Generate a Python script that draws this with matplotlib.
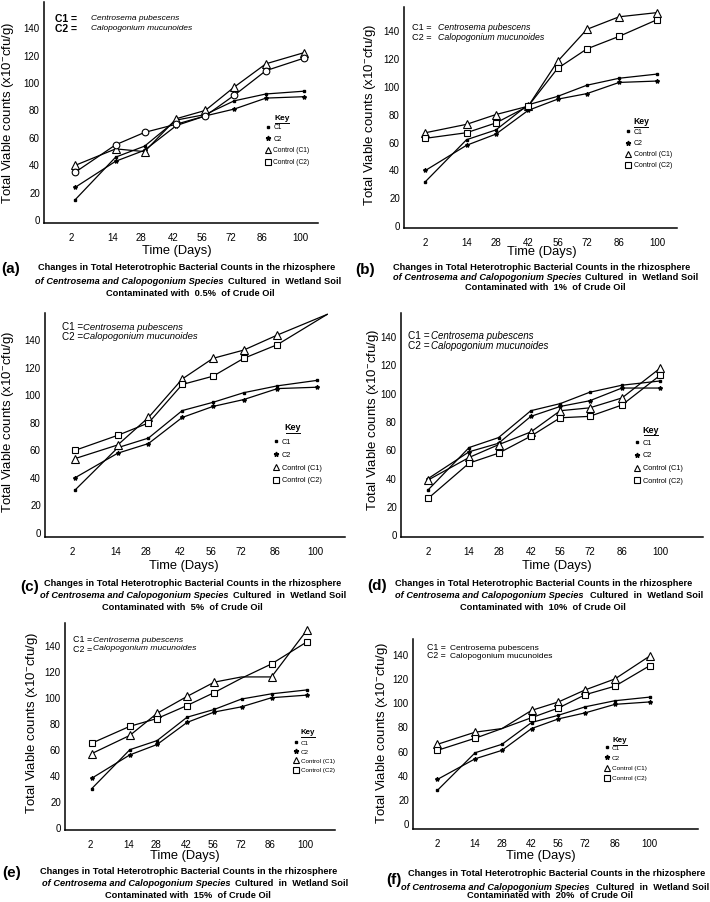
import matplotlib.pyplot as plt
from matplotlib.lines import Line2D

plt.rcParams['font.family'] = ['Liberation Sans', 'DejaVu Sans']

# ---- data ----
days = ['2', '14', '28', '42', '56', '72', '86', '100']
panel_tags = ['(a)', '(b)', '(c)', '(d)', '(e)', '(f)']
oil_levels = ['0.5%', '1%', '5%', '10%', '15%', '20%']

c1 = [
    [15, 46, 54, 73, 77, 87, 92, 94],
    [32, 62, 69, 87, 93, 101, 106, 109],
    [31, 62, 69, 89, 95, 102, 107, 111],
    [32, 62, 69, 88, 93, 101, 106, 109],
    [30, 60, 67, 85, 91, 99, 103, 106],
    [28, 59, 66, 84, 90, 97, 102, 105],
]
c2 = [
    [24, 43, 51, 69, 76, 81, 89, 90],
    [40, 58, 66, 83, 91, 95, 103, 104],
    [40, 58, 65, 84, 92, 97, 105, 106],
    [40, 59, 65, 84, 91, 95, 104, 104],
    [38, 56, 64, 81, 89, 93, 100, 102],
    [37, 54, 61, 79, 87, 92, 99, 101],
]
control_c1 = [
    [40, 52, 50, 74, 80, 97, 114, 122],
    [67, 73, 80, 86, 118, 141, 150, 153],
    [54, 64, 84, 112, 127, 133, 144, 159],
    [39, 55, 64, 73, 88, 90, 97, 118],
    [57, 71, 88, 101, 112, 116, 116, 152],
    [66, 76, 79, 94, 101, 111, 120, 139],
]
control_c2 = [
    [35, 55, 64, 70, 76, 91, 109, 118],
    [63, 67, 74, 86, 113, 127, 136, 148],
    [60, 71, 80, 108, 114, 127, 137, 159],
    [26, 51, 58, 70, 83, 84, 92, 113],
    [65, 78, 84, 94, 104, 115, 126, 143],
    [61, 71, 79, 88, 96, 107, 114, 131],
]
key_labels = ['C1', 'C2', 'Control (C1)', 'Control (C2)']

# ---- layout (pixels of a 710x902 canvas) ----
W, H = 710, 902
fig = plt.figure(figsize=(W / 100, H / 100), dpi=100)


def fx(x):
    return x / W


def fy(y):
    return 1 - y / H


xpos = [1, 2.4, 3.4, 4.5, 5.5, 6.5, 7.6, 8.9]
boxes = [(44, 318, 2, 223), (404, 677, 7, 228), (45, 345, 313, 537),
         (401, 703, 313, 537), (65, 335, 623, 830), (413, 698, 639, 829)]
ylims = [(-2, 159), (-1.2, 157), (-3, 160), (-1.2, 157), (-1.8, 157.5), (-4, 153)]
xlims = [(0.04, 9.52), (0.27, 9.57), (0.11, 9.88), (0.08, 10.36), (0.06, 9.97), (0.09, 10.69)]
shift = [0.12, 0, 0.08, 0, 0.04, 0]
hidden = [[], [], [7], [], [5], [2]]
ctrl2_marker = ['o', 's', 's', 's', 's', 's']

ylab_pos = [(8, 113), (370, 115), (8, 422), (373, 420), (32, 723), (382, 733)]
time_pos = [(177, 251), (542, 252), (184, 566), (557, 566), (185, 856), (541, 856)]

# prefix x, line1 y, line2 y, name x, name size
head_pos = [(55, 19, 29, 91, 6.0), (412, 28, 38, 438, 6.3), (62, 327, 337, 83, 6.8),
            (408, 336, 346, 431, 7.0), (73, 640, 649, 93, 6.1), (427, 648, 656, 450, 6.0)]

key_pos = [(268, 128, 11.3, 282, 118, 4.8), (628, 133, 11.1, 641, 122, 5.0),
           (276, 443, 13.1, 293, 428, 5.3), (637, 444, 12.9, 651, 430, 5.3),
           (296, 744, 9.9, 308, 732, 4.5), (607, 749, 11.0, 620, 740, 4.6)]

cap_pos = [  # tag x, tag y, line1 cx, y1, italic x, bold x, y2, line3 cx, y3
    (1, 269, 187, 268, 35, 228, 281, 190, 294),
    (355, 270, 542, 267, 393, 585, 277, 545, 288),
    (20, 587, 193, 584, 40, 233, 596, 182, 607),
    (367, 586, 544, 584, 395, 590, 596, 543, 607),
    (2, 873, 189, 872, 42, 235, 884, 188, 895),
    (386, 880, 557, 874, 401, 596, 887, 550, 895),
]
cap_fs = 6.7

for i in range(6):
    l, r, t, b = boxes[i]
    ax = fig.add_axes([fx(l), fy(b), (r - l) / W, (b - t) / H])
    xs = [p + shift[i] for p in xpos]
    xs_ctrl = list(xs)
    if i == 2:
        xs_ctrl[-1] = 9.3
    every = [j for j in range(len(days)) if j not in hidden[i]]

    ax.plot(xs, c1[i], color='k', lw=0.9, marker='s', ms=1.8)
    ax.plot(xs, c2[i], color='k', lw=0.9, marker='*', ms=3)
    ax.plot(xs_ctrl, control_c1[i], color='k', lw=0.9, marker='^', ms=5.5,
            mfc='white', mew=0.8, markevery=every)
    ax.plot(xs_ctrl, control_c2[i], color='k', lw=0.9, marker=ctrl2_marker[i],
            ms=4.8, mfc='white', mew=0.8, markevery=every)

    ax.set_xlim(*xlims[i])
    ax.set_ylim(*ylims[i])
    ax.set_xticks(xpos)
    ax.set_xticklabels(days)
    ax.set_yticks(range(0, 141, 20))
    ax.tick_params(length=0, labelsize=7)
    ax.tick_params(axis='x', pad=7)
    ax.tick_params(axis='y', pad=3)
    for s in ['top', 'right']:
        ax.spines[s].set_visible(False)
    for s in ['left', 'bottom']:
        ax.spines[s].set_linewidth(1.1)

    # axis titles
    x, y = ylab_pos[i]
    fig.text(fx(x), fy(y), 'Total Viable counts (x10$^{\\mathregular{-}}$cfu/g)',
             rotation=90, ha='center', va='center', fontsize=9.5)
    x, y = time_pos[i]
    fig.text(fx(x), fy(y), 'Time (Days)', ha='center', va='center', fontsize=9.3)

    # species header
    hx, hy1, hy2, nx, nfs = head_pos[i]
    hw = 'bold' if i == 0 else 'normal'
    pfs = 7.5 if i == 0 else nfs + 0.3
    hs = 'normal' if i == 5 else 'italic'
    fig.text(fx(hx), fy(hy1), 'C1 =', fontsize=pfs, fontweight=hw, va='center')
    fig.text(fx(hx), fy(hy2), 'C2 =', fontsize=pfs, fontweight=hw, va='center')
    fig.text(fx(nx), fy(hy1), 'Centrosema pubescens', fontsize=nfs,
             style=hs, va='center')
    fig.text(fx(nx), fy(hy2), 'Calopogonium mucunoides', fontsize=nfs,
             style=hs, va='center')

    # key
    mx, my, step, kx, ky, kfs = key_pos[i]
    fs_px = kfs * 100 / 72
    handles = [
        Line2D([], [], color='k', ls='none', marker='s', ms=2),
        Line2D([], [], color='k', ls='none', marker='*', ms=3.5),
        Line2D([], [], color='k', ls='none', marker='^', ms=4, mfc='white', mew=0.8),
        Line2D([], [], color='k', ls='none', marker='s', ms=4, mfc='white', mew=0.8),
    ]
    ax.legend(handles, key_labels, loc='upper left', frameon=False,
              bbox_to_anchor=(fx(mx - 0.5 * fs_px), fy(my - 0.6 * fs_px)),
              bbox_transform=fig.transFigure, fontsize=kfs, borderpad=0,
              borderaxespad=0, handlelength=1.0, handletextpad=0.3,
              labelspacing=step / fs_px - 1.0)
    fig.text(fx(kx), fy(ky), 'Key', fontsize=kfs + 1.2, fontweight='bold',
             ha='center', va='center')
    fig.add_artist(Line2D([fx(kx - 7), fx(kx + 7)], [fy(ky + 4.5)] * 2,
                          color='k', lw=0.7, transform=fig.transFigure))

    # caption
    tx, ty, c1x, y1, itx, bx, y2, c3x, y3 = cap_pos[i]
    fig.text(fx(tx), fy(ty), panel_tags[i], fontsize=11, fontweight='bold',
             va='center')
    fig.text(fx(c1x), fy(y1), 'Changes in Total Heterotrophic Bacterial Counts in the rhizosphere',
             fontsize=cap_fs, fontweight='bold', ha='center', va='center')
    fig.text(fx(itx), fy(y2), 'of Centrosema and Calopogonium Species',
             fontsize=cap_fs, fontweight='bold', style='italic', va='center')
    fig.text(fx(bx), fy(y2), 'Cultured  in  Wetland Soil',
             fontsize=cap_fs, fontweight='bold', va='center')
    fig.text(fx(c3x), fy(y3), 'Contaminated with  ' + oil_levels[i] + '  of Crude Oil',
             fontsize=cap_fs, fontweight='bold', ha='center', va='center')

fig.savefig('out.png', dpi=100)
